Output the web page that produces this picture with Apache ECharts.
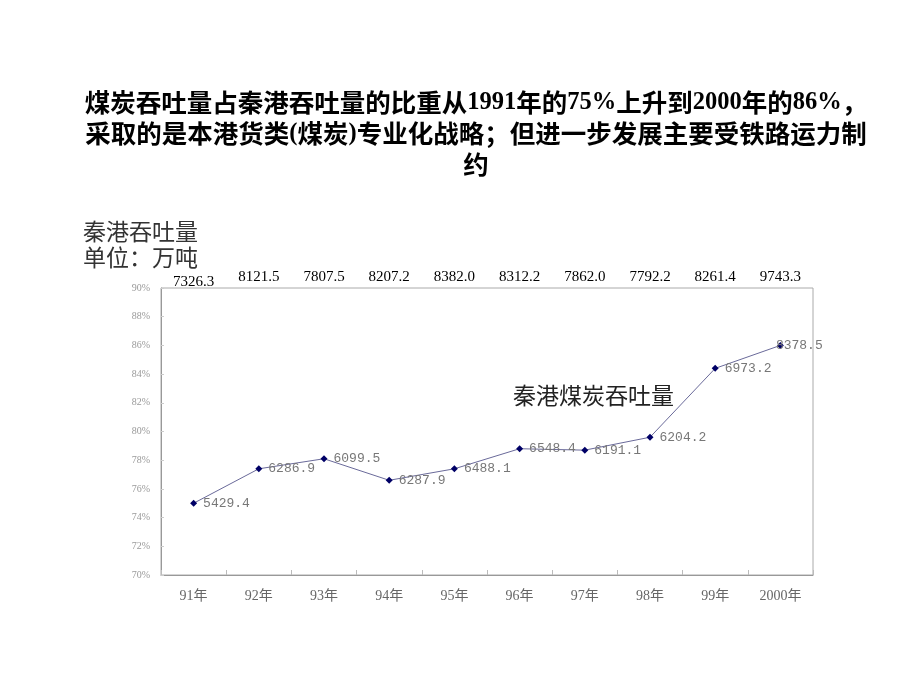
<!DOCTYPE html>
<html><head><meta charset="utf-8">
<script src="https://cdn.jsdelivr.net/npm/echarts@6/dist/echarts.min.js"></script>
<style>html,body{margin:0;padding:0;background:#fff}#c{width:920px;height:690px}</style>
</head><body><div id="c"></div>
<script>
var categories = ['91年','92年','93年','94年','95年','96年','97年','98年','99年','2000年'];
var coalShare = [75.0, 77.4, 78.1, 76.6, 77.4, 78.8, 78.7, 79.6, 84.4, 86.0];
var coalThroughput = ['5429.4','6286.9','6099.5','6287.9','6488.1','6548.4','6191.1','6204.2','6973.2','8378.5'];
var totalThroughput = ['7326.3','8121.5','7807.5','8207.2','8382.0','8312.2','7862.0','7792.2','8261.4','9743.3'];
var yTicks = [70, 72, 74, 76, 78, 80, 82, 84, 86, 88, 90];

var chart = echarts.init(document.getElementById('c'));
var seriesData = coalShare.map(function (v, i) {
  var d = { value: v };
  if (i === categories.length - 1) {
    d.label = { position: 'right', offset: [-14, 0] };
  }
  return d;
});
var titleText =
  '{t|煤炭吞吐量占秦港吞吐量的比重从}{n|1991}{t|年的}{n|75%}{t|上升到}{n|2000}{t|年的}{n|86%}{t|，}\n' +
  '{t|采取的是本港货类}{n|(}{t|煤炭}{n|)}{t|专业化战略；但进一步发展主要受铁路运力制}\n' +
  '{t|约}';
chart.setOption({
  animation: false,
  backgroundColor: '#fff',
  title: [
    {
      text: titleText,
      left: 476, top: 87, textAlign: 'center', padding: 0,
      textStyle: {
        lineHeight: 31,
        rich: {
          t: { fontSize: 25.5, fontWeight: 'bold', color: '#000', lineHeight: 31,
            fontFamily: '"Noto Sans CJK SC"' },
          n: { fontSize: 24.5, fontWeight: 'bold', color: '#000', lineHeight: 31,
            fontFamily: '"Liberation Serif"' }
        }
      }
    },
    {
      text: '秦港吞吐量\n单位：万吨',
      left: 83, top: 218, padding: 0,
      textStyle: { fontSize: 23, fontWeight: 'normal', color: '#333', lineHeight: 26,
        fontFamily: '"Noto Sans CJK SC"' }
    },
    {
      text: '秦港煤炭吞吐量',
      left: 513, top: 382, padding: 0,
      textStyle: { fontSize: 23, fontWeight: 'normal', color: '#222', lineHeight: 26,
        fontFamily: '"Noto Sans CJK SC"' }
    }
  ],
  grid: { left: 161, right: 107, top: 288, bottom: 115, show: true, borderColor: '#aaa', borderWidth: 1 },
  xAxis: [
    {
      type: 'category', data: categories, position: 'bottom',
      axisLine: { lineStyle: { color: '#999' } },
      axisTick: { show: true, inside: true, length: 5, lineStyle: { color: '#bbb' } },
      axisLabel: { color: '#666', fontSize: 14, margin: 14,
        fontFamily: '"Liberation Serif", "Noto Sans CJK SC"' }
    },
    {
      type: 'category', data: totalThroughput, position: 'top',
      axisLine: { show: false }, axisTick: { show: false },
      axisLabel: {
        margin: -2, interval: 0,
        formatter: function (v, i) { return i === 0 ? '{a|' + v + '}' : '{b|' + v + '}'; },
        rich: {
          a: { fontSize: 15, color: '#000', fontFamily: '"Liberation Serif"', padding: [0, 0, 0, 0] },
          b: { fontSize: 15, color: '#000', fontFamily: '"Liberation Serif"', padding: [0, 0, 5, 0] }
        }
      }
    }
  ],
  yAxis: {
    type: 'value', min: 70, max: 90, interval: 2,
    axisLine: { show: true, lineStyle: { color: '#999' } },
    axisTick: { show: true, inside: true, length: 3, lineStyle: { color: '#ccc' } },
    splitLine: { show: false },
    axisLabel: { color: '#999', fontSize: 10, margin: 11,
      fontFamily: '"Liberation Serif"',
      formatter: function (v) { return yTicks.indexOf(v) >= 0 ? v + '%' : ''; } }
  },
  series: [{
    type: 'line', xAxisIndex: 0, data: seriesData,
    symbol: 'diamond', symbolSize: 7,
    itemStyle: { color: '#000066' },
    lineStyle: { color: '#6a6a9a', width: 1 },
    label: {
      show: true, position: 'right', distance: 6, color: '#777', fontSize: 13,
      fontFamily: '"Liberation Mono"',
      formatter: function (p) { return coalThroughput[p.dataIndex]; }
    }
  }]
});
</script></body></html>
